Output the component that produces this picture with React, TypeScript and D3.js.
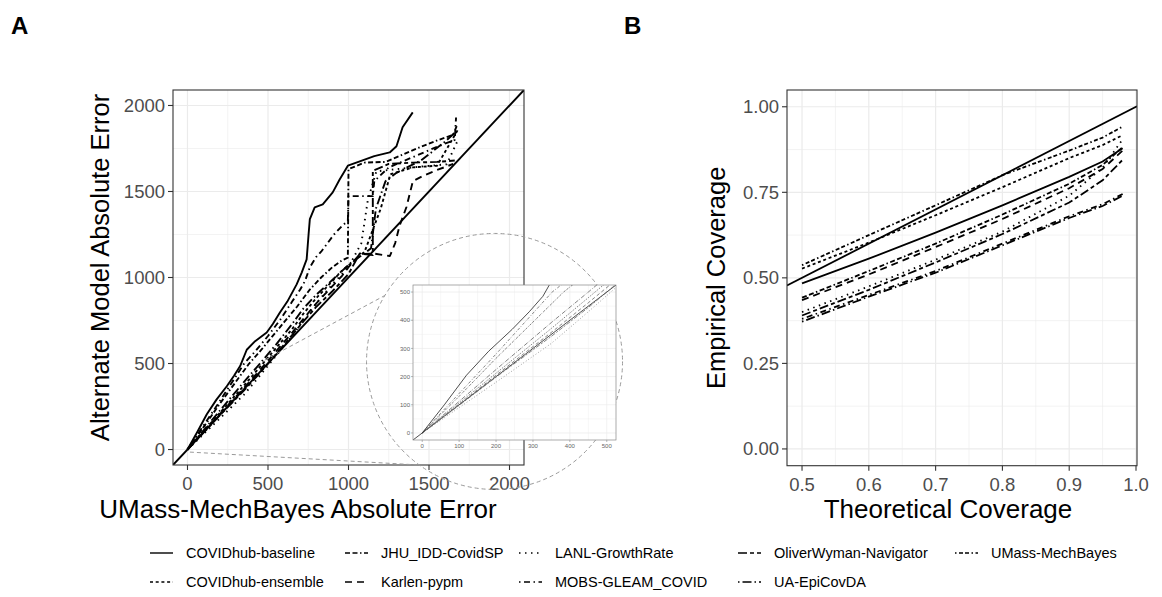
import React from 'react';
import * as d3 from 'd3';

// ---------------- DATA ----------------
const MODELS = [
  'COVIDhub-baseline',
  'COVIDhub-ensemble',
  'JHU_IDD-CovidSP',
  'Karlen-pypm',
  'LANL-GrowthRate',
  'MOBS-GLEAM_COVID',
  'OliverWyman-Navigator',
  'UA-EpiCovDA',
  'UMass-MechBayes',
];

// Panel A: UMass-MechBayes absolute error (x) vs alternate model absolute error (y)
const errBaseline: [number, number][] = [
  [0, 0], [60, 100], [120, 205], [180, 290], [244, 368], [290, 430], [327, 485], [368, 580], [420, 630],
  [492, 680], [530, 730], [574, 796], [620, 860], [678, 960], [710, 1030], [740, 1105], [752, 1250],
  [760, 1340], [790, 1408], [840, 1425], [902, 1495], [945, 1570], [996, 1650], [1070, 1675],
  [1160, 1706], [1256, 1727], [1298, 1763], [1336, 1873], [1399, 1960],
];
const errEnsemble: [number, number][] = [
  [0, 0], [100, 106], [200, 212], [350, 371], [450, 480], [550, 590], [650, 700], [720, 790], [800, 880],
  [880, 960], [960, 1040], [1040, 1100], [1100, 1150], [1200, 1400], [1260, 1600], [1400, 1640],
  [1550, 1650], [1680, 1860],
];
const errJHU: [number, number][] = [
  [0, 0], [100, 130], [200, 265], [383, 500], [450, 570], [520, 650], [600, 740], [680, 830], [760, 930],
  [830, 1000], [900, 1060], [960, 1100], [996, 1115], [1000, 1630], [1100, 1668], [1230, 1672],
  [1300, 1700], [1450, 1760], [1560, 1800], [1650, 1830], [1672, 1880],
];
const errKarlen: [number, number][] = [
  [0, 0], [100, 102], [200, 205], [350, 357], [450, 462], [550, 570], [650, 680], [720, 760], [800, 850],
  [880, 930], [960, 1010], [1000, 1060], [1070, 1135], [1150, 1140], [1257, 1125], [1290, 1200],
  [1317, 1300], [1360, 1410], [1400, 1560], [1462, 1590], [1550, 1625], [1650, 1660],
];
const errLANL: [number, number][] = [
  [0, 0], [100, 90], [200, 180], [350, 318], [450, 430], [550, 545], [650, 660], [720, 750], [800, 850],
  [900, 960], [1000, 1060], [1080, 1200], [1120, 1450], [1173, 1617], [1300, 1630], [1450, 1645],
  [1610, 1658], [1680, 1800],
];
const errMOBS: [number, number][] = [
  [0, 0], [100, 140], [200, 280], [352, 500], [420, 570], [500, 660], [580, 760], [650, 860], [700, 930],
  [730, 980], [760, 1060], [800, 1120], [830, 1150], [870, 1200], [910, 1250], [960, 1300], [996, 1330],
  [1000, 1473], [1151, 1473], [1160, 1560], [1250, 1640], [1400, 1700], [1550, 1760], [1660, 1800],
  [1668, 1930],
];
const errOliverWyman: [number, number][] = [
  [0, 0], [100, 98], [200, 198], [350, 343], [450, 445], [550, 555], [650, 665], [720, 745], [800, 830],
  [900, 920], [1000, 1020], [1070, 1140], [1151, 1130], [1151, 1620], [1250, 1660], [1400, 1668],
  [1550, 1672], [1660, 1680],
];
const errUA: [number, number][] = [
  [0, 0], [100, 112], [200, 225], [350, 392], [450, 500], [550, 610], [650, 730], [720, 820], [800, 900],
  [870, 960], [950, 1030], [1020, 1090], [1100, 1140], [1140, 1170], [1170, 1400], [1230, 1560],
  [1300, 1610], [1450, 1680], [1600, 1790], [1670, 1850],
];

const panelASeries: { name: string; pts: [number, number][] }[] = [
  { name: 'COVIDhub-ensemble', pts: errEnsemble },
  { name: 'JHU_IDD-CovidSP', pts: errJHU },
  { name: 'Karlen-pypm', pts: errKarlen },
  { name: 'LANL-GrowthRate', pts: errLANL },
  { name: 'MOBS-GLEAM_COVID', pts: errMOBS },
  { name: 'OliverWyman-Navigator', pts: errOliverWyman },
  { name: 'UA-EpiCovDA', pts: errUA },
  { name: 'COVIDhub-baseline', pts: errBaseline },
];

// Panel B: theoretical vs empirical coverage
const coverageLevels = [0.5, 0.6, 0.7, 0.8, 0.9, 0.95, 0.98];
const covBaseline = [0.484, 0.556, 0.632, 0.712, 0.795, 0.84, 0.879];
const covEnsemble = [0.527, 0.603, 0.683, 0.765, 0.85, 0.888, 0.917];
const covJHU = [0.442, 0.52, 0.6, 0.685, 0.775, 0.83, 0.882];
const covKarlen = [0.435, 0.51, 0.59, 0.672, 0.762, 0.818, 0.872];
const covLANL = [0.4, 0.475, 0.553, 0.635, 0.74, 0.822, 0.905];
const covMOBS = [0.38, 0.45, 0.52, 0.6, 0.68, 0.715, 0.745];
const covOliverWyman = [0.39, 0.465, 0.545, 0.628, 0.72, 0.785, 0.845];
const covUA = [0.372, 0.445, 0.515, 0.595, 0.675, 0.71, 0.74];
const covUMass = [0.537, 0.625, 0.712, 0.8, 0.872, 0.91, 0.942];

const panelBSeries: { name: string; vals: number[] }[] = [
  { name: 'COVIDhub-baseline', vals: covBaseline },
  { name: 'COVIDhub-ensemble', vals: covEnsemble },
  { name: 'JHU_IDD-CovidSP', vals: covJHU },
  { name: 'Karlen-pypm', vals: covKarlen },
  { name: 'LANL-GrowthRate', vals: covLANL },
  { name: 'MOBS-GLEAM_COVID', vals: covMOBS },
  { name: 'OliverWyman-Navigator', vals: covOliverWyman },
  { name: 'UA-EpiCovDA', vals: covUA },
  { name: 'UMass-MechBayes', vals: covUMass },
];

const ticksA = [0, 500, 1000, 1500, 2000];
const minorA = [250, 750, 1250, 1750];
const ticksBx = [0.5, 0.6, 0.7, 0.8, 0.9, 1.0];
const minorBx = [0.55, 0.65, 0.75, 0.85, 0.95];
const ticksBy = [0, 0.25, 0.5, 0.75, 1.0];
const minorBy = [0.125, 0.375, 0.625, 0.875];
const ticksInset = [0, 100, 200, 300, 400, 500];
const minorInset = [50, 150, 250, 350, 450];

// ---------------- STYLES ----------------
const DASH: Record<string, string> = {
  'COVIDhub-baseline': 'none',
  'COVIDhub-ensemble': '3 2.7',
  'JHU_IDD-CovidSP': '5 2.5 5 2.5 1.5 2.5',
  'Karlen-pypm': '7 5',
  'LANL-GrowthRate': '1.5 4.5',
  'MOBS-GLEAM_COVID': '1.5 3.5 6 3.5',
  'OliverWyman-Navigator': '9 3 4 3',
  'UA-EpiCovDA': '1.5 3 9 3',
  'UMass-MechBayes': '1.5 2.5 4 2 4 2.5',
};
const scaleDash = (d: string, k: number) =>
  d === 'none' ? 'none' : d.split(' ').map((v) => (+v * k).toFixed(2)).join(' ');

const FONT = "'Liberation Sans', Arial, Helvetica, sans-serif";
const GRID = '#EBEBEB';
const BORDER = '#333333';
const TICKTXT = '#4D4D4D';

// layout
const PA = { left: 173, right: 524, top: 90, bottom: 465 };
const PB = { left: 787, right: 1137, top: 90, bottom: 465.7 };
const INSET = { left: 413, right: 616, top: 285, bottom: 440 };
const LEGEND_COLS = [150, 345, 519, 738, 955];
const LEGEND_ROWS = [553, 582];

export default function App() {
  const xA = d3.scaleLinear().domain([-90, 2090]).range([PA.left, PA.right]);
  const yA = d3.scaleLinear().domain([-90, 2090]).range([PA.bottom, PA.top]);
  const xB = d3.scaleLinear().domain([0.4775, 1.0015]).range([PB.left, PB.right]);
  const yB = d3.scaleLinear().domain([-0.049, 1.049]).range([PB.bottom, PB.top]);
  const xI = d3.scaleLinear().domain([-25, 525]).range([INSET.left, INSET.right]);
  const yI = d3.scaleLinear().domain([-25, 525]).range([INSET.bottom, INSET.top]);

  const lineA = d3.line<[number, number]>().x((d) => xA(d[0])).y((d) => yA(d[1]));
  const lineI = d3.line<[number, number]>().x((d) => xI(d[0])).y((d) => yI(d[1]));
  const lineB = d3
    .line<number>()
    .x((_, i) => xB(coverageLevels[i]))
    .y((d) => yB(d));

  const diagA: [number, number][] = [[-90, -90], [2090, 2090]];
  const diagI: [number, number][] = [[-25, -25], [525, 525]];
  const diagBx = xB.domain();

  // zoom annotation (anchored in panel-A data units)
  const circleCenter: [number, number] = [1907, 512];
  const cx = xA(circleCenter[0]);
  const cy = yA(circleCenter[1]);
  const r = 128;
  const connUpperStart: [number, number] = [480, 520];
  const connLowerStart: [number, number] = [15, -15];
  const angUpper = (211 * Math.PI) / 180;
  const angLower = (126 * Math.PI) / 180;

  return (
    <svg
      width={1162}
      height={597}
      style={{ position: 'absolute', left: 0, top: 0, background: '#fff' }}
      fontFamily={FONT}
    >
      <defs>
        <clipPath id="clipA">
          <rect x={PA.left} y={PA.top} width={PA.right - PA.left} height={PA.bottom - PA.top} />
        </clipPath>
        <clipPath id="clipB">
          <rect x={PB.left} y={PB.top} width={PB.right - PB.left} height={PB.bottom - PB.top} />
        </clipPath>
        <clipPath id="clipI">
          <rect x={INSET.left} y={INSET.top} width={INSET.right - INSET.left} height={INSET.bottom - INSET.top} />
        </clipPath>
      </defs>
      <rect x={0} y={0} width={1162} height={597} fill="#fff" />

      {/* panel labels */}
      <text x={11} y={34} fontSize={24} fontWeight="bold" fill="#000">A</text>
      <text x={624} y={34} fontSize={24} fontWeight="bold" fill="#000">B</text>

      {/* ---------- PANEL A ---------- */}
      <g>
        {minorA.map((v) => (
          <g key={'ma' + v}>
            <line x1={xA(v)} x2={xA(v)} y1={PA.top} y2={PA.bottom} stroke={GRID} strokeWidth={0.6} />
            <line x1={PA.left} x2={PA.right} y1={yA(v)} y2={yA(v)} stroke={GRID} strokeWidth={0.6} />
          </g>
        ))}
        {ticksA.map((v) => (
          <g key={'ga' + v}>
            <line x1={xA(v)} x2={xA(v)} y1={PA.top} y2={PA.bottom} stroke={GRID} strokeWidth={1.2} />
            <line x1={PA.left} x2={PA.right} y1={yA(v)} y2={yA(v)} stroke={GRID} strokeWidth={1.2} />
          </g>
        ))}
        <g clipPath="url(#clipA)" fill="none" stroke="#000" strokeWidth={1.9} strokeLinejoin="round">
          <path d={lineA(diagA) || ''} />
          {panelASeries.map((s) => (
            <path key={s.name} d={lineA(s.pts) || ''} strokeDasharray={DASH[s.name]} />
          ))}
        </g>
        <rect x={PA.left} y={PA.top} width={PA.right - PA.left} height={PA.bottom - PA.top} fill="none" stroke={BORDER} strokeWidth={1.1} />
        {ticksA.map((v) => (
          <g key={'ta' + v}>
            <line x1={PA.left - 5} x2={PA.left} y1={yA(v)} y2={yA(v)} stroke={BORDER} strokeWidth={1.1} />
            <text x={PA.left - 8} y={yA(v)} dy="0.35em" textAnchor="end" fontSize={18.5} fill={TICKTXT}>{v}</text>
            <line x1={xA(v)} x2={xA(v)} y1={PA.bottom} y2={PA.bottom + 5} stroke={BORDER} strokeWidth={1.1} />
            <text x={xA(v)} y={PA.bottom + 25} textAnchor="middle" fontSize={18.5} fill={TICKTXT}>{v}</text>
          </g>
        ))}
        <text x={298} y={518} textAnchor="middle" fontSize={26} fill="#000">UMass-MechBayes Absolute Error</text>
        <text transform={`translate(109,${(PA.top + PA.bottom) / 2 - 10}) rotate(-90)`} textAnchor="middle" fontSize={25.5} fill="#000">Alternate Model Absolute Error</text>
      </g>

      {/* zoom annotation */}
      <g fill="none" stroke="#9a9a9a" strokeWidth={1} strokeDasharray="4 3">
        <line x1={xA(connUpperStart[0])} y1={yA(connUpperStart[1])} x2={cx + r * Math.cos(angUpper)} y2={cy + r * Math.sin(angUpper)} />
        <line x1={xA(connLowerStart[0])} y1={yA(connLowerStart[1])} x2={cx + r * Math.cos(angLower)} y2={cy + r * Math.sin(angLower)} />
        <circle cx={cx} cy={cy} r={r} />
      </g>

      {/* inset */}
      <g>
        <rect x={INSET.left} y={INSET.top} width={INSET.right - INSET.left} height={INSET.bottom - INSET.top} fill="#fff" />
        {minorInset.map((v) => (
          <g key={'mi' + v}>
            <line x1={xI(v)} x2={xI(v)} y1={INSET.top} y2={INSET.bottom} stroke={GRID} strokeWidth={0.4} />
            <line x1={INSET.left} x2={INSET.right} y1={yI(v)} y2={yI(v)} stroke={GRID} strokeWidth={0.4} />
          </g>
        ))}
        {ticksInset.map((v) => (
          <g key={'gi' + v}>
            <line x1={xI(v)} x2={xI(v)} y1={INSET.top} y2={INSET.bottom} stroke={GRID} strokeWidth={0.7} />
            <line x1={INSET.left} x2={INSET.right} y1={yI(v)} y2={yI(v)} stroke={GRID} strokeWidth={0.7} />
          </g>
        ))}
        <g clipPath="url(#clipI)" fill="none" stroke="#555" strokeWidth={0.8}>
          <path d={lineI(diagI) || ''} stroke="#222" />
          {panelASeries.map((s) => (
            <path
              key={'i' + s.name}
              d={lineI(s.pts) || ''}
              stroke={s.name === 'COVIDhub-baseline' ? '#222' : '#666'}
              strokeDasharray={scaleDash(DASH[s.name], 0.5)}
            />
          ))}
        </g>
        <rect x={INSET.left} y={INSET.top} width={INSET.right - INSET.left} height={INSET.bottom - INSET.top} fill="none" stroke="#888" strokeWidth={0.7} />
        {ticksInset.map((v) => (
          <g key={'ti' + v}>
            <line x1={INSET.left - 2} x2={INSET.left} y1={yI(v)} y2={yI(v)} stroke="#888" strokeWidth={0.6} />
            <text x={INSET.left - 3} y={yI(v)} dy="0.35em" textAnchor="end" fontSize={6} fill="#666">{v}</text>
            <line x1={xI(v)} x2={xI(v)} y1={INSET.bottom} y2={INSET.bottom + 2} stroke="#888" strokeWidth={0.6} />
            <text x={xI(v)} y={INSET.bottom + 8} textAnchor="middle" fontSize={6} fill="#666">{v}</text>
          </g>
        ))}
      </g>

      {/* ---------- PANEL B ---------- */}
      <g>
        {minorBx.map((v) => (
          <line key={'mbx' + v} x1={xB(v)} x2={xB(v)} y1={PB.top} y2={PB.bottom} stroke={GRID} strokeWidth={0.6} />
        ))}
        {minorBy.map((v) => (
          <line key={'mby' + v} x1={PB.left} x2={PB.right} y1={yB(v)} y2={yB(v)} stroke={GRID} strokeWidth={0.6} />
        ))}
        {ticksBx.map((v) => (
          <line key={'gbx' + v} x1={xB(v)} x2={xB(v)} y1={PB.top} y2={PB.bottom} stroke={GRID} strokeWidth={1.2} />
        ))}
        {ticksBy.map((v) => (
          <line key={'gby' + v} x1={PB.left} x2={PB.right} y1={yB(v)} y2={yB(v)} stroke={GRID} strokeWidth={1.2} />
        ))}
        <g clipPath="url(#clipB)" fill="none" stroke="#000" strokeWidth={1.8}>
          <line x1={xB(diagBx[0])} y1={yB(diagBx[0])} x2={xB(diagBx[1])} y2={yB(diagBx[1])} />
          {panelBSeries.map((s) => (
            <path key={'b' + s.name} d={lineB(s.vals) || ''} strokeDasharray={DASH[s.name]} />
          ))}
        </g>
        <rect x={PB.left} y={PB.top} width={PB.right - PB.left} height={PB.bottom - PB.top} fill="none" stroke={BORDER} strokeWidth={1.1} />
        {ticksBy.map((v) => (
          <g key={'tby' + v}>
            <line x1={PB.left - 5} x2={PB.left} y1={yB(v)} y2={yB(v)} stroke={BORDER} strokeWidth={1.1} />
            <text x={PB.left - 8} y={yB(v)} dy="0.35em" textAnchor="end" fontSize={18.5} fill={TICKTXT}>{d3.format('.2f')(v)}</text>
          </g>
        ))}
        {ticksBx.map((v) => (
          <g key={'tbx' + v}>
            <line x1={xB(v)} x2={xB(v)} y1={PB.bottom} y2={PB.bottom + 5} stroke={BORDER} strokeWidth={1.1} />
            <text x={xB(v)} y={PB.bottom + 25} textAnchor="middle" fontSize={18.5} fill={TICKTXT}>{d3.format('.1f')(v)}</text>
          </g>
        ))}
        <text x={948} y={518} textAnchor="middle" fontSize={26} fill="#000">Theoretical Coverage</text>
        <text transform={`translate(725,${(PB.top + PB.bottom) / 2}) rotate(-90)`} textAnchor="middle" fontSize={25.5} fill="#000">Empirical Coverage</text>
      </g>

      {/* ---------- LEGEND ---------- */}
      <g>
        {MODELS.map((m, i) => {
          const x0 = LEGEND_COLS[Math.floor(i / 2)];
          const y0 = LEGEND_ROWS[i % 2];
          return (
            <g key={'lg' + m}>
              <line x1={x0} x2={x0 + 23} y1={y0} y2={y0} stroke="#000" strokeWidth={1.4} strokeDasharray={DASH[m]} />
              <text x={x0 + 36} y={y0} dy="0.35em" fontSize={14.5} fill="#000">{m}</text>
            </g>
          );
        })}
      </g>
    </svg>
  );
}
